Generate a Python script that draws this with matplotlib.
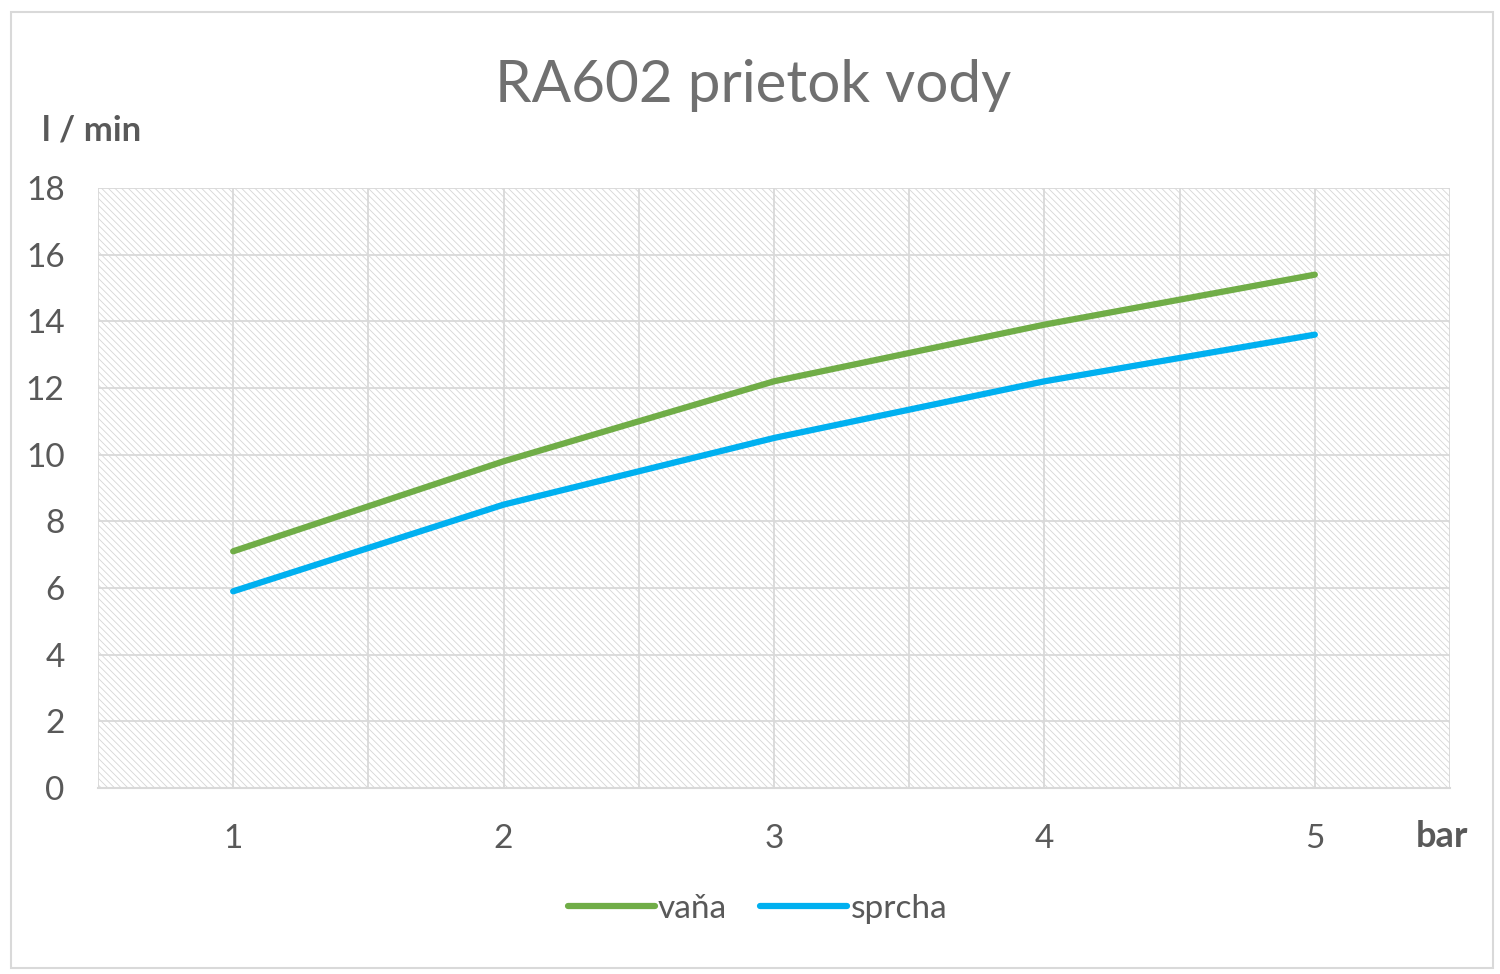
import matplotlib.pyplot as plt
from matplotlib.patches import Rectangle

# data
pressure = [1, 2, 3, 4, 5]
vana = [7.1, 9.8, 12.2, 13.9, 15.4]
sprcha = [5.9, 8.5, 10.5, 12.2, 13.6]
yticks = [0, 2, 4, 6, 8, 10, 12, 14, 16, 18]

plt.rcParams['font.family'] = ['Lato', 'DejaVu Sans']
plt.rcParams['hatch.linewidth'] = 0.6

fig = plt.figure(figsize=(15, 9.74), dpi=100)
fig.patches.append(Rectangle((0.007, 0.006), 0.988, 0.982, transform=fig.transFigure,
                             fill=False, edgecolor='#d9d9d9', linewidth=1.5))

ax = fig.add_axes([0.0653, 0.191, 0.9014, 0.616])
ax.set_facecolor('white')
# hatched plot area like the excel pattern fill
ax.add_patch(Rectangle((0, 0), 1, 1, transform=ax.transAxes, facecolor='white',
                       hatch='\\\\\\\\\\', edgecolor='#d6d6d6', linewidth=0, zorder=0))

ax.plot(pressure, vana, color='#70AD47', linewidth=4.5, solid_capstyle='round',
        solid_joinstyle='round', label='vaňa', zorder=3)
ax.plot(pressure, sprcha, color='#00B0F0', linewidth=4.5, solid_capstyle='round',
        solid_joinstyle='round', label='sprcha', zorder=3)

ax.set_xlim(0.5, 5.5)
ax.set_ylim(0, 18)
ax.set_yticks(yticks)
ax.set_xticks(pressure)
for xg in [0.5 + 0.5 * i for i in range(11)]:
    ax.axvline(xg, color='#d9d9d9', linewidth=1.3, zorder=1)
ax.grid(True, which='major', axis='y', color='#d9d9d9', linewidth=1.3, zorder=1)
ax.set_axisbelow(True)
ax.tick_params(which='both', length=0)
ax.tick_params(axis='y', labelsize=24, colors='#595959', pad=24)
ax.tick_params(axis='x', labelsize=24, colors='#595959', pad=26)
for s in ['top', 'right', 'left']:
    ax.spines[s].set_visible(False)
ax.spines['bottom'].set_color('#d9d9d9')
ax.spines['bottom'].set_linewidth(1.5)

fig.text(0.502, 0.912, 'RA602 prietok vody', ha='center', va='center',
         fontsize=42, color='#707070')
fig.text(0.028, 0.866, 'l / min', ha='left', va='center', fontsize=25,
         fontweight='bold', color='#595959')
fig.text(0.944, 0.141, 'bar', ha='left', va='center', fontsize=26,
         fontweight='bold', color='#595959')

leg = fig.legend(loc='center', bbox_to_anchor=(0.505, 0.067), ncol=2, frameon=False,
                 fontsize=24, handlelength=2.6, handletextpad=0.1, columnspacing=1.0)
for t in leg.get_texts():
    t.set_color('#595959')

fig.savefig('out.png', dpi=100)
